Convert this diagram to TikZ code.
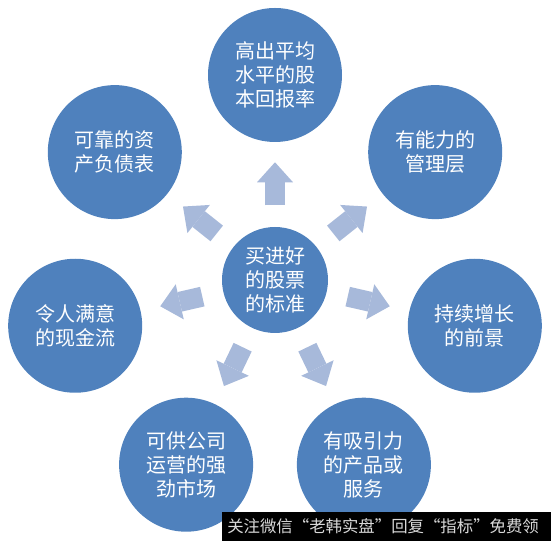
\documentclass[tikz,border=0pt]{standalone}
\usepackage{fontspec}
\setmainfont{Noto Sans CJK SC}
\usepackage{tikz}
\usetikzlibrary{arrows.meta,calc}
\definecolor{AzulDisco}{RGB}{79,129,189}
\definecolor{AzulFlecha}{RGB}{167,185,218}

\begin{document}
\begin{tikzpicture}[x=0.75pt,y=0.75pt,
  disco/.style={circle,fill=AzulDisco,text=white,minimum size=100.5pt,inner sep=0pt,
    align=center,font=\fontsize{15}{18}\selectfont},
  flecha/.style={AzulFlecha,line width=15pt,
    -{Triangle[width=27pt,length=15pt,line width=0pt]},shorten <=16pt,shorten >=15pt}]
  \useasboundingbox (0,0) rectangle (551,541);
  \node[disco,minimum size=79.5pt] (c) at (275,261) {买进好\\的股票\\的标准};
  \node[disco] (alto) at ($(c)+(90:205)$) {高出平均\\水平的股\\本回报率};
  \node[disco] (gestion) at ($(c)+(38.6:205)$) {有能力的\\管理层};
  \node[disco] (futuro) at ($(c)+(-12.9:205)$) {持续增长\\的前景};
  \node[disco] (producto) at ($(c)+(-64.3:205)$) {有吸引力\\的产品或\\服务};
  \node[disco] (mercado) at ($(c)+(-115.7:205)$) {可供公司\\运营的强\\劲市场};
  \node[disco] (caja) at ($(c)+(192.9:205)$) {令人满意\\的现金流};
  \node[disco] (balance) at ($(c)+(141.4:205)$) {可靠的资\\产负债表};
  \foreach \n in {alto,gestion,futuro,producto,mercado,caja,balance}
    \draw[flecha] (c) -- (\n);
  \fill[black] (222,0) rectangle (551,29);
  \node[anchor=west,inner sep=0pt,text=white!85!black,font=\fontsize{12.3}{12.3}\selectfont]
    (marca) at (227,14.5) {关注微信“老韩实盘”回复“指标”免费领};
\end{tikzpicture}
\end{document}
